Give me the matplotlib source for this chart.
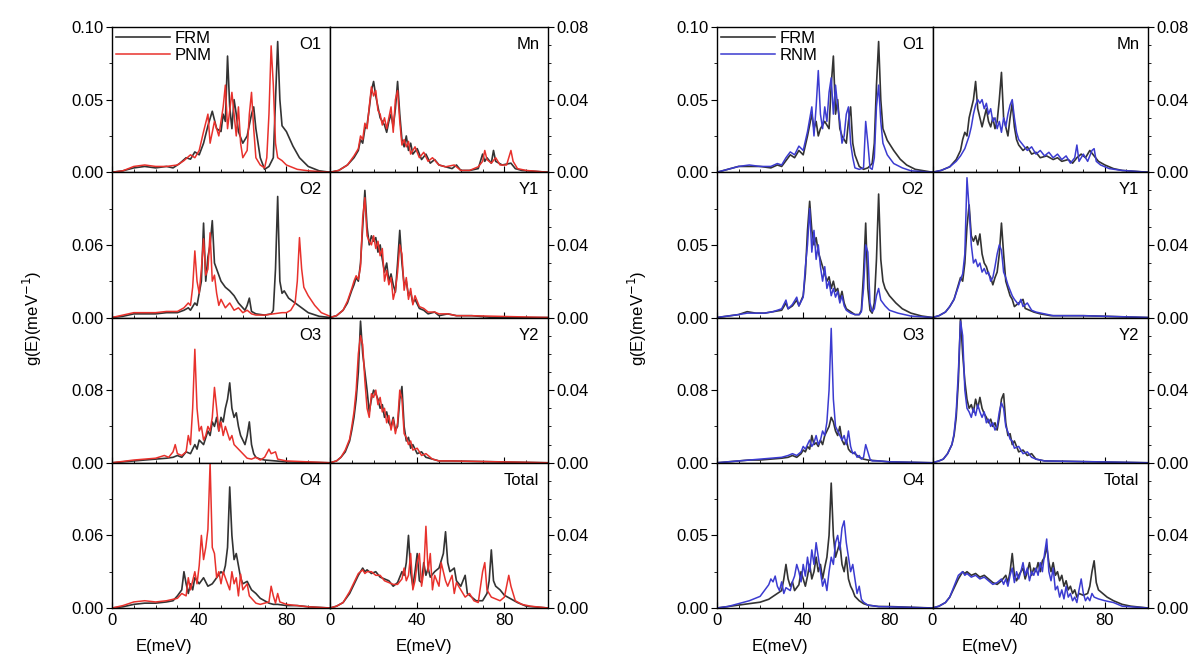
import matplotlib
matplotlib.use("Agg")
import matplotlib.pyplot as plt
from matplotlib.ticker import MultipleLocator

plt.rcParams['font.family'] = ['Liberation Sans', 'DejaVu Sans']

# ---- phonon DOS, FRM vs PNM (left block) ----
L_O1_FRM = [(0,0),(5,0.001),(10,0.003),(15,0.004),(20,0.003),(25,0.004),(28,0.003),(31,0.006),(34,0.01),(36,0.009),(38,0.014),(40,0.012),(42,0.02),(44,0.032),(46,0.042),(48,0.03),(50,0.028),(51,0.04),(52,0.035),(53,0.08),(54,0.045),(55,0.03),(56,0.05),(57,0.04),(58,0.028),(60,0.02),(62,0.025),(64,0.04),(65,0.045),(66,0.03),(68,0.01),(70,0.002),(72,0.004),(74,0.01),(75,0.05),(76,0.09),(77,0.05),(78,0.032),(80,0.028),(83,0.018),(86,0.01),(90,0.004),(95,0.001),(100,0)]
L_O1_PNM = [(0,0),(5,0.001),(10,0.004),(15,0.005),(20,0.004),(25,0.004),(30,0.005),(33,0.008),(36,0.012),(38,0.01),(40,0.015),(42,0.028),(44,0.04),(45,0.02),(47,0.035),(49,0.025),(51,0.045),(52,0.06),(53,0.03),(55,0.055),(56,0.04),(57,0.025),(58,0.045),(59,0.02),(60,0.01),(62,0.015),(63,0.04),(64,0.055),(65,0.03),(66,0.01),(68,0.005),(70,0.003),(71,0.01),(72,0.04),(73,0.087),(74,0.06),(75,0.02),(76,0.01),(78,0.008),(80,0.005),(85,0.002),(90,0.001),(100,0)]
L_MN_FRM = [(0,0),(4,0.001),(8,0.004),(11,0.008),(13,0.012),(14,0.018),(15,0.016),(16,0.024),(17,0.026),(18,0.035),(19,0.045),(20,0.05),(21,0.042),(22,0.036),(23,0.03),(24,0.028),(25,0.026),(26,0.022),(27,0.028),(28,0.032),(29,0.025),(30,0.035),(31,0.05),(32,0.032),(33,0.018),(34,0.014),(35,0.02),(36,0.012),(37,0.016),(38,0.01),(40,0.013),(42,0.007),(44,0.01),(46,0.005),(48,0.007),(50,0.004),(53,0.003),(56,0.002),(58,0.004),(60,0.001),(64,0.001),(68,0.002),(70,0.01),(71,0.006),(72,0.008),(74,0.005),(75,0.012),(76,0.006),(79,0.004),(83,0.005),(85,0.002),(88,0.001),(100,0)]
L_MN_PNM = [(0,0),(4,0.001),(8,0.004),(11,0.009),(13,0.013),(14,0.02),(15,0.018),(16,0.027),(17,0.024),(18,0.036),(19,0.047),(20,0.042),(21,0.045),(22,0.034),(23,0.032),(24,0.026),(25,0.03),(26,0.024),(27,0.03),(28,0.036),(29,0.022),(30,0.04),(31,0.045),(32,0.028),(33,0.015),(34,0.018),(35,0.014),(36,0.017),(37,0.01),(39,0.014),(41,0.008),(43,0.011),(45,0.006),(47,0.008),(50,0.004),(53,0.003),(57,0.004),(60,0.001),(64,0.001),(68,0.003),(70,0.006),(71,0.012),(72,0.007),(74,0.005),(76,0.008),(78,0.004),(81,0.004),(82,0.008),(83,0.012),(84,0.006),(86,0.002),(90,0.001),(100,0)]
L_O2_FRM = [(0,0),(5,0.001),(10,0.003),(15,0.003),(20,0.003),(25,0.004),(30,0.004),(33,0.006),(35,0.008),(36,0.006),(38,0.012),(39,0.01),(40,0.02),(41,0.03),(42,0.078),(43,0.03),(44,0.05),(45,0.06),(46,0.08),(47,0.045),(48,0.04),(50,0.03),(52,0.025),(54,0.022),(56,0.018),(58,0.012),(60,0.008),(61,0.006),(62,0.01),(63,0.016),(64,0.005),(66,0.003),(70,0.002),(73,0.003),(74,0.006),(75,0.04),(76,0.1),(77,0.03),(78,0.02),(79,0.022),(81,0.016),(84,0.012),(87,0.008),(90,0.004),(95,0.001),(100,0)]
L_O2_PNM = [(0,0),(5,0.002),(10,0.004),(15,0.004),(20,0.004),(25,0.005),(30,0.005),(33,0.008),(35,0.012),(36,0.01),(37,0.025),(38,0.055),(39,0.03),(40,0.02),(41,0.04),(42,0.065),(43,0.035),(44,0.04),(45,0.07),(46,0.03),(47,0.035),(48,0.02),(49,0.01),(50,0.015),(52,0.008),(54,0.012),(56,0.006),(58,0.008),(60,0.004),(62,0.006),(64,0.003),(66,0.002),(70,0.002),(74,0.003),(78,0.004),(80,0.004),(82,0.006),(84,0.012),(85,0.03),(86,0.066),(87,0.04),(88,0.025),(90,0.018),(93,0.01),(96,0.004),(100,0.001)]
L_Y1_FRM = [(0,0),(3,0.001),(6,0.004),(8,0.008),(10,0.015),(11,0.018),(12,0.022),(13,0.02),(14,0.03),(15,0.05),(16,0.07),(17,0.05),(18,0.04),(19,0.045),(20,0.042),(21,0.044),(22,0.036),(23,0.04),(24,0.032),(25,0.025),(26,0.03),(27,0.02),(28,0.024),(29,0.018),(30,0.014),(31,0.03),(32,0.048),(33,0.03),(34,0.018),(35,0.02),(36,0.012),(37,0.014),(38,0.008),(39,0.01),(41,0.005),(43,0.004),(45,0.002),(48,0.003),(50,0.001),(54,0.002),(58,0.001),(65,0.001),(75,0),(100,0)]
L_Y1_PNM = [(0,0),(3,0.001),(6,0.004),(8,0.009),(10,0.016),(11,0.02),(12,0.023),(13,0.021),(14,0.028),(15,0.055),(16,0.066),(17,0.045),(18,0.042),(19,0.04),(20,0.045),(21,0.038),(22,0.042),(23,0.034),(24,0.038),(25,0.02),(26,0.026),(27,0.018),(28,0.022),(29,0.01),(30,0.015),(31,0.025),(32,0.04),(33,0.035),(34,0.015),(35,0.022),(36,0.01),(37,0.016),(38,0.007),(39,0.012),(41,0.006),(43,0.005),(45,0.003),(48,0.003),(50,0.002),(54,0.002),(58,0.001),(65,0.001),(100,0)]
L_O3_FRM = [(0,0),(10,0.002),(15,0.003),(20,0.004),(25,0.005),(28,0.006),(30,0.008),(32,0.006),(34,0.012),(36,0.01),(38,0.02),(39,0.015),(40,0.025),(42,0.02),(44,0.035),(45,0.03),(46,0.045),(47,0.04),(48,0.05),(49,0.035),(50,0.05),(51,0.045),(52,0.06),(53,0.07),(54,0.088),(55,0.06),(56,0.05),(57,0.055),(58,0.04),(59,0.03),(60,0.025),(61,0.02),(62,0.03),(63,0.045),(64,0.02),(65,0.01),(66,0.006),(68,0.004),(70,0.003),(75,0.002),(80,0.001),(100,0)]
L_O3_PNM = [(0,0),(10,0.003),(15,0.004),(20,0.005),(24,0.008),(26,0.006),(28,0.012),(29,0.02),(30,0.01),(32,0.008),(34,0.012),(35,0.03),(36,0.02),(37,0.06),(38,0.125),(39,0.06),(40,0.035),(41,0.04),(42,0.025),(43,0.03),(44,0.04),(45,0.035),(46,0.05),(47,0.083),(48,0.06),(49,0.035),(50,0.045),(51,0.03),(52,0.04),(54,0.025),(55,0.03),(56,0.02),(58,0.015),(60,0.01),(62,0.005),(64,0.004),(66,0.006),(68,0.003),(70,0.006),(72,0.015),(73,0.01),(75,0.012),(76,0.004),(80,0.002),(100,0)]
L_Y2_FRM = [(0,0),(3,0.001),(5,0.003),(7,0.006),(9,0.012),(10,0.018),(11,0.025),(12,0.035),(13,0.05),(14,0.078),(15,0.06),(16,0.05),(17,0.04),(18,0.028),(19,0.035),(20,0.04),(21,0.038),(22,0.035),(23,0.03),(24,0.032),(25,0.025),(26,0.028),(27,0.022),(28,0.02),(29,0.025),(30,0.018),(31,0.02),(32,0.035),(33,0.042),(34,0.02),(35,0.012),(36,0.014),(37,0.008),(38,0.01),(40,0.005),(42,0.006),(44,0.003),(47,0.002),(50,0.001),(55,0.001),(100,0)]
L_Y2_PNM = [(0,0),(3,0.001),(5,0.003),(7,0.007),(9,0.013),(10,0.02),(11,0.028),(12,0.04),(13,0.06),(14,0.07),(15,0.065),(16,0.045),(17,0.03),(18,0.025),(19,0.038),(20,0.036),(21,0.04),(22,0.032),(23,0.036),(24,0.028),(25,0.03),(26,0.022),(27,0.026),(28,0.018),(29,0.024),(30,0.016),(31,0.022),(32,0.04),(33,0.035),(34,0.016),(35,0.014),(36,0.01),(37,0.012),(38,0.007),(40,0.008),(42,0.004),(44,0.005),(47,0.002),(50,0.001),(55,0.001),(100,0)]
L_O4_FRM = [(0,0),(5,0.001),(10,0.003),(15,0.004),(20,0.004),(25,0.005),(28,0.006),(30,0.01),(32,0.015),(33,0.03),(34,0.02),(35,0.012),(36,0.02),(37,0.015),(38,0.025),(40,0.02),(42,0.025),(44,0.018),(46,0.02),(48,0.025),(50,0.03),(51,0.028),(52,0.035),(53,0.05),(54,0.1),(55,0.06),(56,0.04),(57,0.045),(58,0.035),(59,0.025),(60,0.02),(62,0.022),(64,0.015),(66,0.012),(68,0.008),(70,0.006),(72,0.004),(74,0.003),(76,0.003),(80,0.002),(85,0.002),(90,0.001),(100,0)]
L_O4_PNM = [(0,0),(5,0.002),(10,0.005),(15,0.006),(20,0.005),(25,0.006),(30,0.008),(32,0.012),(34,0.01),(35,0.025),(36,0.015),(38,0.03),(39,0.02),(40,0.035),(41,0.06),(42,0.04),(43,0.05),(44,0.065),(45,0.12),(46,0.05),(47,0.045),(48,0.025),(49,0.03),(50,0.02),(51,0.03),(52,0.025),(54,0.015),(55,0.03),(56,0.02),(57,0.025),(58,0.01),(59,0.028),(60,0.015),(62,0.02),(63,0.01),(64,0.008),(66,0.004),(68,0.003),(70,0.004),(72,0.005),(73,0.018),(74,0.01),(75,0.004),(76,0.012),(77,0.005),(80,0.003),(85,0.002),(90,0.001),(100,0)]
L_TOT_FRM = [(0,0),(3,0.001),(6,0.003),(9,0.008),(11,0.013),(13,0.018),(15,0.022),(16,0.02),(17,0.021),(19,0.019),(21,0.02),(23,0.017),(25,0.016),(27,0.015),(29,0.012),(31,0.014),(33,0.02),(34,0.018),(35,0.025),(36,0.04),(37,0.02),(38,0.012),(39,0.02),(40,0.03),(41,0.015),(42,0.014),(43,0.025),(44,0.018),(45,0.022),(46,0.017),(48,0.02),(50,0.022),(52,0.03),(53,0.042),(54,0.025),(55,0.02),(57,0.022),(58,0.015),(60,0.012),(62,0.018),(63,0.008),(65,0.006),(67,0.004),(70,0.004),(72,0.008),(73,0.015),(74,0.032),(75,0.015),(76,0.012),(78,0.01),(80,0.007),(83,0.005),(86,0.003),(90,0.001),(100,0)]
L_TOT_PNM = [(0,0),(3,0.001),(6,0.003),(9,0.009),(11,0.014),(13,0.019),(15,0.021),(16,0.019),(17,0.02),(19,0.02),(21,0.018),(23,0.018),(25,0.015),(27,0.014),(29,0.013),(31,0.013),(33,0.016),(34,0.022),(35,0.015),(36,0.018),(37,0.03),(38,0.01),(39,0.015),(40,0.025),(41,0.03),(42,0.012),(43,0.02),(44,0.045),(45,0.02),(46,0.03),(47,0.01),(48,0.018),(50,0.012),(51,0.025),(52,0.02),(53,0.015),(54,0.012),(56,0.018),(57,0.008),(58,0.014),(60,0.01),(62,0.006),(64,0.008),(66,0.004),(68,0.003),(70,0.02),(71,0.025),(72,0.01),(74,0.006),(76,0.005),(78,0.004),(80,0.006),(82,0.018),(83,0.012),(85,0.004),(88,0.002),(92,0.001),(100,0)]

# ---- phonon DOS, FRM vs RNM (right block) ----
R_O1_FRM = [(0,0),(5,0.002),(10,0.004),(15,0.004),(20,0.004),(25,0.003),(28,0.005),(30,0.004),(32,0.008),(34,0.012),(36,0.01),(38,0.015),(40,0.012),(42,0.025),(44,0.04),(45,0.03),(46,0.035),(47,0.025),(48,0.03),(50,0.035),(52,0.03),(53,0.06),(54,0.08),(55,0.04),(56,0.05),(57,0.03),(58,0.025),(60,0.02),(61,0.035),(62,0.045),(63,0.02),(64,0.012),(66,0.004),(68,0.002),(70,0.003),(72,0.006),(73,0.02),(74,0.06),(75,0.09),(76,0.05),(77,0.03),(79,0.022),(82,0.015),(85,0.009),(88,0.005),(92,0.002),(100,0)]
R_O1_PNM = [(0,0),(5,0.002),(10,0.004),(15,0.005),(20,0.004),(25,0.004),(28,0.006),(30,0.005),(32,0.01),(34,0.014),(36,0.012),(38,0.018),(40,0.015),(42,0.028),(44,0.045),(45,0.025),(46,0.045),(47,0.07),(48,0.04),(49,0.03),(50,0.045),(51,0.035),(52,0.055),(53,0.065),(54,0.04),(55,0.06),(56,0.045),(57,0.035),(58,0.02),(59,0.025),(60,0.04),(61,0.045),(62,0.02),(63,0.01),(64,0.003),(66,0.002),(68,0.003),(69,0.035),(70,0.02),(71,0.003),(72,0.002),(73,0.01),(74,0.045),(75,0.06),(76,0.035),(77,0.02),(79,0.012),(82,0.006),(86,0.003),(90,0.001),(100,0)]
R_MN_FRM = [(0,0),(4,0.001),(8,0.003),(11,0.007),(13,0.012),(14,0.018),(15,0.022),(16,0.02),(17,0.03),(18,0.035),(19,0.04),(20,0.05),(21,0.035),(22,0.03),(23,0.025),(24,0.03),(25,0.035),(26,0.028),(27,0.025),(28,0.03),(29,0.024),(30,0.028),(31,0.04),(32,0.055),(33,0.03),(34,0.025),(35,0.02),(36,0.03),(37,0.038),(38,0.025),(39,0.018),(40,0.015),(42,0.012),(44,0.014),(46,0.01),(48,0.011),(50,0.008),(53,0.009),(56,0.007),(58,0.008),(60,0.006),(63,0.007),(65,0.005),(67,0.008),(69,0.01),(71,0.008),(73,0.012),(75,0.009),(77,0.006),(80,0.004),(84,0.002),(88,0.001),(100,0)]
R_MN_PNM = [(0,0),(4,0.001),(8,0.003),(11,0.006),(13,0.009),(15,0.013),(17,0.02),(18,0.025),(19,0.032),(20,0.037),(21,0.04),(22,0.038),(23,0.04),(24,0.035),(25,0.038),(26,0.032),(27,0.035),(28,0.028),(29,0.03),(30,0.024),(31,0.028),(32,0.022),(33,0.03),(34,0.025),(35,0.032),(36,0.037),(37,0.04),(38,0.03),(39,0.022),(40,0.018),(42,0.015),(44,0.012),(46,0.014),(48,0.01),(50,0.012),(52,0.009),(54,0.011),(56,0.008),(58,0.01),(60,0.007),(62,0.009),(64,0.005),(66,0.008),(67,0.015),(68,0.006),(70,0.01),(72,0.006),(74,0.012),(75,0.013),(76,0.006),(78,0.004),(82,0.002),(88,0.001),(100,0)]
R_O2_FRM = [(0,0),(5,0.001),(10,0.002),(14,0.004),(18,0.003),(22,0.003),(26,0.004),(30,0.005),(32,0.01),(33,0.006),(35,0.008),(37,0.012),(38,0.008),(40,0.015),(41,0.03),(42,0.06),(43,0.08),(44,0.06),(45,0.05),(46,0.055),(47,0.045),(48,0.04),(49,0.035),(50,0.03),(51,0.025),(52,0.028),(53,0.02),(54,0.025),(55,0.018),(56,0.02),(57,0.012),(58,0.018),(59,0.01),(60,0.006),(62,0.004),(64,0.002),(66,0.002),(67,0.005),(68,0.03),(69,0.065),(70,0.02),(71,0.005),(72,0.003),(73,0.01),(74,0.04),(75,0.085),(76,0.04),(77,0.025),(78,0.02),(80,0.015),(83,0.01),(86,0.006),(90,0.003),(95,0.001),(100,0)]
R_O2_PNM = [(0,0),(5,0.001),(10,0.002),(14,0.003),(18,0.003),(22,0.003),(26,0.004),(30,0.006),(32,0.012),(33,0.006),(35,0.009),(37,0.014),(38,0.008),(40,0.014),(41,0.035),(42,0.05),(43,0.075),(44,0.045),(45,0.06),(46,0.04),(47,0.05),(48,0.035),(49,0.025),(50,0.035),(51,0.02),(52,0.025),(53,0.015),(54,0.02),(55,0.014),(56,0.018),(57,0.01),(58,0.015),(59,0.008),(60,0.005),(62,0.003),(64,0.002),(66,0.002),(67,0.004),(68,0.02),(69,0.05),(70,0.045),(71,0.01),(72,0.004),(73,0.006),(74,0.015),(75,0.02),(76,0.012),(78,0.008),(80,0.005),(84,0.003),(90,0.001),(100,0)]
R_Y1_FRM = [(0,0),(3,0.001),(6,0.003),(8,0.006),(10,0.01),(12,0.018),(13,0.022),(14,0.02),(15,0.03),(16,0.05),(17,0.062),(18,0.045),(19,0.042),(20,0.045),(21,0.04),(22,0.046),(23,0.035),(24,0.03),(25,0.028),(26,0.024),(27,0.022),(28,0.018),(29,0.022),(30,0.025),(31,0.035),(32,0.052),(33,0.035),(34,0.02),(35,0.016),(36,0.012),(37,0.01),(38,0.006),(40,0.008),(42,0.01),(43,0.005),(45,0.004),(47,0.003),(50,0.002),(55,0.001),(70,0.001),(100,0)]
R_Y1_PNM = [(0,0),(3,0.001),(6,0.003),(8,0.006),(10,0.01),(12,0.017),(13,0.021),(14,0.024),(15,0.035),(16,0.077),(17,0.06),(18,0.04),(19,0.03),(20,0.032),(21,0.028),(22,0.03),(23,0.025),(24,0.027),(25,0.024),(26,0.025),(27,0.02),(28,0.022),(29,0.028),(30,0.035),(31,0.04),(32,0.037),(33,0.025),(34,0.022),(35,0.018),(36,0.015),(37,0.012),(38,0.01),(40,0.007),(41,0.01),(42,0.006),(44,0.008),(46,0.004),(48,0.003),(52,0.002),(56,0.001),(70,0.001),(100,0)]
R_O3_FRM = [(0,0),(10,0.002),(15,0.003),(20,0.003),(25,0.004),(30,0.005),(33,0.006),(35,0.008),(37,0.006),(39,0.01),(40,0.014),(41,0.012),(42,0.018),(43,0.015),(44,0.03),(45,0.02),(46,0.022),(47,0.018),(48,0.025),(49,0.02),(50,0.03),(51,0.035),(52,0.04),(53,0.05),(54,0.045),(55,0.035),(56,0.03),(57,0.04),(58,0.025),(59,0.02),(60,0.025),(61,0.015),(62,0.012),(64,0.01),(66,0.006),(68,0.004),(70,0.003),(75,0.002),(80,0.001),(100,0)]
R_O3_PNM = [(0,0),(10,0.002),(15,0.003),(20,0.004),(25,0.005),(30,0.006),(33,0.008),(35,0.01),(37,0.008),(39,0.012),(40,0.018),(41,0.015),(42,0.02),(43,0.025),(44,0.018),(45,0.022),(46,0.03),(47,0.02),(48,0.025),(49,0.035),(50,0.03),(51,0.045),(52,0.08),(53,0.148),(54,0.07),(55,0.04),(56,0.035),(57,0.03),(58,0.025),(59,0.03),(60,0.02),(61,0.035),(62,0.018),(63,0.01),(64,0.012),(65,0.006),(66,0.008),(67,0.004),(68,0.006),(69,0.02),(70,0.012),(71,0.004),(72,0.002),(75,0.002),(80,0.001),(100,0)]
R_Y2_FRM = [(0,0),(3,0.001),(5,0.002),(7,0.005),(9,0.01),(10,0.015),(11,0.025),(12,0.045),(13,0.08),(14,0.06),(15,0.045),(16,0.035),(17,0.03),(18,0.032),(19,0.028),(20,0.035),(21,0.03),(22,0.036),(23,0.03),(24,0.027),(25,0.025),(26,0.022),(27,0.024),(28,0.02),(29,0.022),(30,0.018),(31,0.025),(32,0.035),(33,0.038),(34,0.022),(35,0.015),(36,0.016),(37,0.01),(38,0.012),(40,0.006),(42,0.007),(44,0.004),(46,0.005),(48,0.002),(52,0.001),(100,0)]
R_Y2_PNM = [(0,0),(3,0.001),(5,0.002),(7,0.005),(9,0.01),(10,0.016),(11,0.028),(12,0.05),(13,0.078),(14,0.07),(15,0.04),(16,0.03),(17,0.028),(18,0.025),(19,0.03),(20,0.026),(21,0.032),(22,0.028),(23,0.025),(24,0.028),(25,0.022),(26,0.024),(27,0.02),(28,0.022),(29,0.018),(30,0.02),(31,0.028),(32,0.033),(33,0.03),(34,0.02),(35,0.017),(36,0.013),(37,0.012),(38,0.008),(40,0.009),(42,0.005),(44,0.006),(46,0.003),(48,0.002),(52,0.001),(100,0)]
R_O4_FRM = [(0,0),(5,0.001),(10,0.002),(15,0.003),(20,0.004),(24,0.006),(26,0.008),(28,0.01),(30,0.012),(31,0.02),(32,0.03),(33,0.02),(34,0.015),(35,0.018),(36,0.012),(38,0.016),(39,0.025),(40,0.02),(41,0.015),(42,0.022),(43,0.03),(44,0.02),(45,0.025),(46,0.035),(47,0.025),(48,0.03),(49,0.02),(50,0.028),(51,0.035),(52,0.05),(53,0.086),(54,0.05),(55,0.035),(56,0.04),(57,0.045),(58,0.03),(59,0.025),(60,0.035),(61,0.02),(62,0.015),(63,0.012),(64,0.008),(66,0.005),(68,0.003),(70,0.002),(75,0.001),(80,0.001),(100,0)]
R_O4_PNM = [(0,0),(5,0.001),(10,0.003),(15,0.005),(20,0.008),(22,0.012),(24,0.016),(25,0.02),(26,0.018),(27,0.022),(28,0.015),(29,0.012),(30,0.018),(31,0.01),(32,0.014),(34,0.012),(35,0.018),(36,0.022),(37,0.03),(38,0.025),(39,0.018),(40,0.03),(41,0.022),(42,0.035),(43,0.025),(44,0.04),(45,0.03),(46,0.045),(47,0.035),(48,0.025),(49,0.015),(50,0.02),(51,0.012),(52,0.025),(53,0.035),(54,0.03),(55,0.045),(56,0.05),(57,0.04),(58,0.055),(59,0.06),(60,0.045),(61,0.035),(62,0.025),(63,0.03),(64,0.02),(65,0.01),(66,0.015),(67,0.006),(68,0.004),(70,0.002),(75,0.001),(100,0)]
R_TOT_FRM = [(0,0),(3,0.001),(6,0.003),(8,0.006),(10,0.011),(12,0.016),(14,0.02),(15,0.019),(16,0.02),(18,0.018),(20,0.019),(22,0.017),(24,0.018),(26,0.016),(28,0.014),(30,0.013),(32,0.015),(34,0.018),(35,0.014),(36,0.02),(37,0.03),(38,0.018),(39,0.015),(40,0.018),(42,0.022),(43,0.016),(44,0.02),(45,0.025),(46,0.018),(47,0.022),(48,0.02),(49,0.025),(50,0.02),(51,0.026),(52,0.028),(53,0.034),(54,0.025),(55,0.02),(56,0.025),(57,0.018),(58,0.02),(59,0.015),(60,0.018),(61,0.012),(62,0.015),(63,0.01),(64,0.012),(65,0.008),(66,0.01),(67,0.006),(68,0.008),(70,0.007),(72,0.008),(73,0.012),(74,0.02),(75,0.026),(76,0.014),(77,0.01),(79,0.008),(81,0.006),(84,0.004),(88,0.002),(92,0.001),(100,0)]
R_TOT_PNM = [(0,0),(3,0.001),(6,0.003),(8,0.006),(10,0.012),(12,0.018),(14,0.02),(15,0.018),(16,0.019),(18,0.017),(20,0.018),(22,0.016),(24,0.017),(26,0.015),(28,0.013),(30,0.014),(32,0.016),(33,0.013),(34,0.016),(35,0.012),(36,0.018),(37,0.022),(38,0.014),(39,0.02),(40,0.016),(41,0.02),(42,0.025),(43,0.018),(44,0.022),(45,0.015),(46,0.02),(47,0.018),(48,0.022),(49,0.018),(50,0.025),(51,0.02),(52,0.03),(53,0.038),(54,0.02),(55,0.015),(56,0.022),(57,0.01),(58,0.012),(59,0.006),(60,0.01),(61,0.005),(62,0.012),(63,0.006),(64,0.008),(65,0.004),(66,0.006),(67,0.003),(68,0.01),(69,0.016),(70,0.008),(71,0.004),(72,0.006),(73,0.004),(74,0.008),(75,0.006),(77,0.005),(80,0.004),(84,0.003),(88,0.001),(100,0)]

SITES = [["O1", "Mn"], ["O2", "Y1"], ["O3", "Y2"], ["O4", "Total"]]

LEFT_CURVES = [[(L_O1_FRM, L_O1_PNM), (L_MN_FRM, L_MN_PNM)],
               [(L_O2_FRM, L_O2_PNM), (L_Y1_FRM, L_Y1_PNM)],
               [(L_O3_FRM, L_O3_PNM), (L_Y2_FRM, L_Y2_PNM)],
               [(L_O4_FRM, L_O4_PNM), (L_TOT_FRM, L_TOT_PNM)]]
RIGHT_CURVES = [[(R_O1_FRM, R_O1_PNM), (R_MN_FRM, R_MN_PNM)],
                [(R_O2_FRM, R_O2_PNM), (R_Y1_FRM, R_Y1_PNM)],
                [(R_O3_FRM, R_O3_PNM), (R_Y2_FRM, R_Y2_PNM)],
                [(R_O4_FRM, R_O4_PNM), (R_TOT_FRM, R_TOT_PNM)]]

# y-range and labelled middle tick of the O-site column, per row
LEFT_YMAX = [0.10, 0.12, 0.16, 0.12]
LEFT_YMID = [0.05, 0.06, 0.08, 0.06]
RIGHT_YMAX = [0.10, 0.10, 0.16, 0.10]
RIGHT_YMID = [0.05, 0.05, 0.08, 0.05]
CATION_YMAX = 0.08

W, H = 1201, 663
fig = plt.figure(figsize=(W / 100, H / 100), dpi=100)

FS = 12
FRM_COLOR = "#333333"


def draw_block(x0, colw, curves, ymax, ymid, other_label, other_color, xlab_px):
    top, rowh = 27, 145.25
    axes = []
    for r in range(4):
        for c in range(2):
            left = (x0 + c * colw) / W
            bottom = 1 - (top + (r + 1) * rowh) / H
            ax = fig.add_axes([left, bottom, colw / W, rowh / H])
            frm, other = curves[r][c]
            ax.plot([p[0] for p in frm], [p[1] for p in frm], color=FRM_COLOR, lw=1.2, label="FRM")
            ax.plot([p[0] for p in other], [p[1] for p in other], color=other_color, lw=1.1, label=other_label)
            ax.set_xlim(0, 100)
            ax.xaxis.set_major_locator(MultipleLocator(40))
            ax.xaxis.set_minor_locator(MultipleLocator(10))
            ax.tick_params(axis="x", which="both", direction="in", top=False)
            ax.tick_params(axis="x", which="major", length=4, labelsize=FS)
            ax.tick_params(axis="x", which="minor", length=2)
            if r < 3:
                ax.tick_params(axis="x", labelbottom=False)
            if c == 0:
                ym = ymax[r]
                ax.set_ylim(0, ym)
                ticks = [0, ymid[r], ym] if r == 0 else [0, ymid[r]]
                ax.set_yticks(ticks)
                ax.set_yticklabels(["%.2f" % t for t in ticks])
                ax.yaxis.set_minor_locator(MultipleLocator(ymid[r] / 2))
                ax.tick_params(axis="y", which="both", direction="out", right=False)
            else:
                ax.set_ylim(0, CATION_YMAX)
                ticks = [0, 0.04, 0.08] if r == 0 else [0, 0.04]
                ax.set_yticks(ticks)
                ax.set_yticklabels(["%.2f" % t for t in ticks])
                ax.yaxis.set_minor_locator(MultipleLocator(0.01))
                ax.yaxis.tick_right()
                ax.tick_params(axis="y", which="both", direction="out", left=False, right=True)
            ax.tick_params(axis="y", which="major", length=4, labelsize=FS, pad=2)
            ax.tick_params(axis="y", which="minor", length=2)
            for s in ax.spines.values():
                s.set_linewidth(1.0)
            ax.text(0.96, 0.93, SITES[r][c], transform=ax.transAxes, ha="right", va="top", fontsize=FS)
            axes.append(ax)
    axes[0].legend(loc="upper left", frameon=False, fontsize=FS, handlelength=3.2,
                   handletextpad=0.3, labelspacing=0.1, borderaxespad=0.1,
                   borderpad=0.15)
    for cx in xlab_px:
        fig.text(cx / W, 1 - 646 / H, "E(meV)", ha="center", va="center", fontsize=FS)
    fig.text((x0 - 80) / W, 1 - 318 / H, "g(E)(meV$^{-1}$)", rotation=90,
             ha="center", va="center", fontsize=FS)


draw_block(112, 218, LEFT_CURVES, LEFT_YMAX, LEFT_YMID, "PNM", "#e8312c", (164, 424))
draw_block(717, 215.5, RIGHT_CURVES, RIGHT_YMAX, RIGHT_YMID, "RNM", "#3b3bd0", (780, 990))

fig.savefig("out.png", dpi=100)
